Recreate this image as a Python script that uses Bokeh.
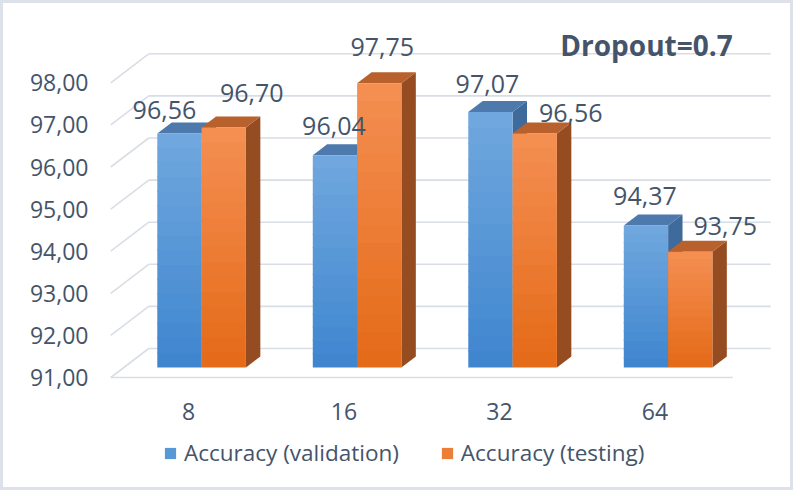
import numpy as np
from bokeh.plotting import figure
from bokeh.models import (ColumnDataSource, Range1d, FixedTicker, Legend, LegendItem,
                          Label, LinearAxis)
from bokeh.core.properties import value
from bokeh.embed import file_html
from bokeh.resources import INLINE

# ---------------- data ----------------
CATEGORIES = ["8", "16", "32", "64"]
VALIDATION = [96.56, 96.04, 97.07, 94.37]
TESTING = [96.70, 97.75, 96.56, 93.75]
Y_TICKS = [91, 92, 93, 94, 95, 96, 97, 98]
Y_TICK_LABELS = ["91,00", "92,00", "93,00", "94,00", "95,00", "96,00", "97,00", "98,00"]
SERIES_NAMES = ["Accuracy (validation)", "Accuracy (testing)"]
TITLE = "Dropout=0.7"
BASE = 91.0

# ---------------- style / geometry ----------------
FONT = "Open Sans"
TEXT_COLOR = "#44546A"
GRID_COLOR = "#d9dee6"
BORDER = 3
W, H = 793, 490
PX_X = 155.5          # pixels per category
PX_Y = 42.1           # pixels per unit of accuracy
X_ORIGIN = 185.0      # canvas px of category 0 (front plane)
Y_BASE_PX = 374.0     # canvas px of BASE (front plane)
FRAME_LEFT = 97
DX = 38.0 / PX_X      # full depth shift (x, data units)
DY = 29.0 / PX_Y      # full depth shift (y, data units)
TF = 10.0 / 29.0      # depth of bar front faces
TB = TF + 11.0 / 29.0 # depth of bar back faces
BAR_W = 0.285
N_SLICES = 16

BLUE_TOP, BLUE_BOT = "#71a8de", "#3e85cf"
ORANGE_TOP, ORANGE_BOT = "#f48f53", "#e46a17"
BLUE_CAP, BLUE_SIDE = "#4d79ac", "#3f6b9c"
ORANGE_CAP, ORANGE_SIDE = "#b8612d", "#954c20"

# label offsets (pixels) relative to the top-front centre of each bar
LABEL_OFF_VAL = [(-15, -23), (-1, -29), (-3, -28), (-1, -30)]
LABEL_OFF_TEST = [(28, -35), (3, -36), (36, -20), (35, -26)]

x_lo = (FRAME_LEFT - X_ORIGIN) / PX_X
x_hi = (W - X_ORIGIN) / PX_X
y_hi = BASE + Y_BASE_PX / PX_Y
y_lo = BASE - (H - Y_BASE_PX) / PX_Y


def px_to_x(cx):
    return (cx - X_ORIGIN) / PX_X


def px_to_y(cy):
    return BASE + (Y_BASE_PX - cy) / PX_Y


def mix(c1, c2, f):
    a = np.array([int(c1[i:i + 2], 16) for i in (1, 3, 5)], float)
    b = np.array([int(c2[i:i + 2], 16) for i in (1, 3, 5)], float)
    c = a + (b - a) * f
    return "#%02x%02x%02x" % tuple(int(round(v)) for v in c)


p = figure(width=W, height=H, x_range=Range1d(x_lo, x_hi), y_range=Range1d(y_lo, y_hi),
           output_backend="svg", toolbar_location=None, x_axis_location=None,
           min_border_left=FRAME_LEFT, min_border_right=0, min_border_top=0,
           min_border_bottom=0, outline_line_color=None,
           background_fill_color="white", border_fill_color="white")
p.styles = {"border": f"{BORDER}px solid #dde2ea"}
p.grid.visible = False

# ---- walls: back gridlines, left diagonals, floor front edge ----
n_cat = len(CATEGORIES)
wall_l, wall_r = -0.5, n_cat - 0.5
gx, gy = [], []
for t in Y_TICKS:
    gx.append([wall_l + DX, wall_r + DX]); gy.append([t + DY, t + DY])
    gx.append([wall_l, wall_l + DX]); gy.append([t, t + DY])
gx.append([wall_l, wall_r]); gy.append([BASE, BASE])
p.multi_line(gx, gy, line_color=GRID_COLOR, line_width=1.6)

# ---- bars ----
OVERLAP = 1.2 / PX_Y


def bar_parts(values, offset, width, top_c, bot_c):
    front = dict(left=[], right=[], bottom=[], top=[], color=[])
    caps = dict(xs=[], ys=[])
    sides = dict(xs=[], ys=[])
    for i, v in enumerate(values):
        xl = i + offset
        xr = xl + width
        b0, t0 = BASE + TF * DY, v + TF * DY
        edges = np.linspace(b0, t0, N_SLICES + 1)
        for k in range(N_SLICES):
            f = (k + 0.5) / N_SLICES
            front["left"].append(xl + TF * DX)
            front["right"].append(xr + TF * DX)
            front["bottom"].append(edges[k])
            front["top"].append(min(edges[k + 1] + OVERLAP, t0))
            front["color"].append(mix(bot_c, top_c, f))
        caps["xs"].append([xl + TF * DX, xr + TF * DX, xr + TB * DX, xl + TB * DX])
        caps["ys"].append([v + TF * DY, v + TF * DY, v + TB * DY, v + TB * DY])
        sides["xs"].append([xr + TF * DX, xr + TF * DX, xr + TB * DX, xr + TB * DX])
        sides["ys"].append([BASE + TF * DY, v + TF * DY, v + TB * DY, BASE + TB * DY])
    return front, caps, sides


renderers = []
for vals, off, tc, bc, cap_c, side_c in [
        (VALIDATION, -BAR_W, BLUE_TOP, BLUE_BOT, BLUE_CAP, BLUE_SIDE),
        (TESTING, 0.0, ORANGE_TOP, ORANGE_BOT, ORANGE_CAP, ORANGE_SIDE)]:
    front, caps, sides = bar_parts(vals, off, BAR_W, tc, bc)
    p.patches("xs", "ys", source=ColumnDataSource(sides), fill_color=side_c, line_color=None)
    p.patches("xs", "ys", source=ColumnDataSource(caps), fill_color=cap_c, line_color=None)
    r = p.quad(left="left", right="right", bottom="bottom", top="top",
               source=ColumnDataSource(front), fill_color="color", line_color=None)
    renderers.append(r)

# ---- value labels ----
lab = dict(x=[], y=[], text=[], dx=[], dy=[])
for vals, off, offs in [(VALIDATION, -BAR_W, LABEL_OFF_VAL), (TESTING, 0.0, LABEL_OFF_TEST)]:
    for i, v in enumerate(vals):
        lab["x"].append(i + off + BAR_W / 2 + TF * DX)
        lab["y"].append(v + TF * DY)
        lab["text"].append(f"{v:.2f}".replace(".", ","))
        lab["dx"].append(offs[i][0])
        lab["dy"].append(offs[i][1])
p.text(x="x", y="y", text="text", x_offset="dx", y_offset="dy",
       source=ColumnDataSource(lab), text_font=value(FONT), text_font_size="25px",
       text_color=TEXT_COLOR, text_align="center", text_baseline="middle")

# ---- title ----
p.add_layout(Label(x=px_to_x(643), y=px_to_y(41), text=TITLE, text_font=FONT,
                   text_font_size="28px", text_font_style="bold", text_color=TEXT_COLOR,
                   text_align="center", text_baseline="middle"))

# ---- axes ----
ya = p.yaxis[0]
ya.ticker = FixedTicker(ticks=Y_TICKS)
ya.major_label_overrides = dict(zip(Y_TICKS, Y_TICK_LABELS))
ya.axis_line_color = None
ya.major_tick_line_color = None
ya.minor_tick_line_color = None
ya.major_tick_out = 0
ya.major_tick_in = 0
ya.major_label_standoff = 12
ya.major_label_text_font = FONT
ya.major_label_text_font_size = "23px"
ya.major_label_text_color = TEXT_COLOR

xa = LinearAxis(ticker=FixedTicker(ticks=list(range(n_cat))),
                major_label_overrides={i: c for i, c in enumerate(CATEGORIES)},
                fixed_location=px_to_y(382))
xa.axis_line_color = None
xa.major_tick_line_color = None
xa.minor_tick_line_color = None
xa.major_tick_out = 0
xa.major_tick_in = 0
xa.major_label_standoff = 17
xa.major_label_text_font = FONT
xa.major_label_text_font_size = "23px"
xa.major_label_text_color = TEXT_COLOR
p.add_layout(xa, "below")

# ---- legend ----
legend = Legend(items=[LegendItem(label=SERIES_NAMES[0], renderers=[renderers[0]], index=N_SLICES // 2),
                       LegendItem(label=SERIES_NAMES[1], renderers=[renderers[1]], index=N_SLICES // 2)],
                orientation="horizontal", location=(63, 25), padding=0, margin=0,
                spacing=41, label_standoff=7, glyph_width=14, glyph_height=14,
                label_text_font=FONT, label_text_font_size="22.5px",
                label_text_color=TEXT_COLOR, border_line_color=None,
                background_fill_alpha=0)
p.add_layout(legend, "center")

open("out.html", "w").write(file_html(p, INLINE))
